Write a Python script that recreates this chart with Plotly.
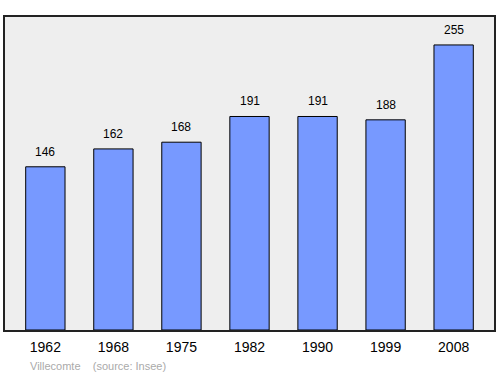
import plotly.graph_objects as go

years = ["1962", "1968", "1975", "1982", "1990", "1999", "2008"]
population = [146, 162, 168, 191, 191, 188, 255]
commune = "Villecomte"
source = "(source: Insee)"

xpos = list(range(len(years)))
font_family = "Liberation Sans, Arial, sans-serif"

fig = go.Figure()
fig.add_trace(go.Bar(
    x=xpos, y=population, width=0.578,
    marker=dict(color="#7799ff", line=dict(color="#000000", width=1)),
))
for xi, v in zip(xpos, population):
    fig.add_annotation(x=xi, y=v, text=str(v), showarrow=False, yanchor="bottom",
                       yshift=6, font=dict(family=font_family, size=12, color="#000000"))
fig.update_layout(
    width=500, height=374,
    margin=dict(l=5, r=4, t=17, b=44),
    paper_bgcolor="#ffffff", plot_bgcolor="#eeeeee",
    showlegend=False,
    xaxis=dict(range=[-0.593, 6.593], tickmode="array", tickvals=xpos, ticktext=years,
               showgrid=False, zeroline=False, ticks="", ticklabelstandoff=3,
               tickfont=dict(family=font_family, size=14, color="#000000"),
               showline=True, linecolor="#222222", linewidth=1.5, mirror=True),
    yaxis=dict(range=[0, 280], showgrid=False, zeroline=False, showticklabels=False, ticks="",
               showline=True, linecolor="#222222", linewidth=1.5, mirror=True),
)
fig.add_annotation(x=(28-5)/491, y=(330-366)/313, xref="paper", yref="paper",
                   text=commune + "&nbsp;&nbsp;&nbsp;&nbsp;" + source,
                   showarrow=False, xanchor="left", yanchor="middle",
                   font=dict(family=font_family, size=11, color="#aaaaaa"))
fig.write_html("out.html")
